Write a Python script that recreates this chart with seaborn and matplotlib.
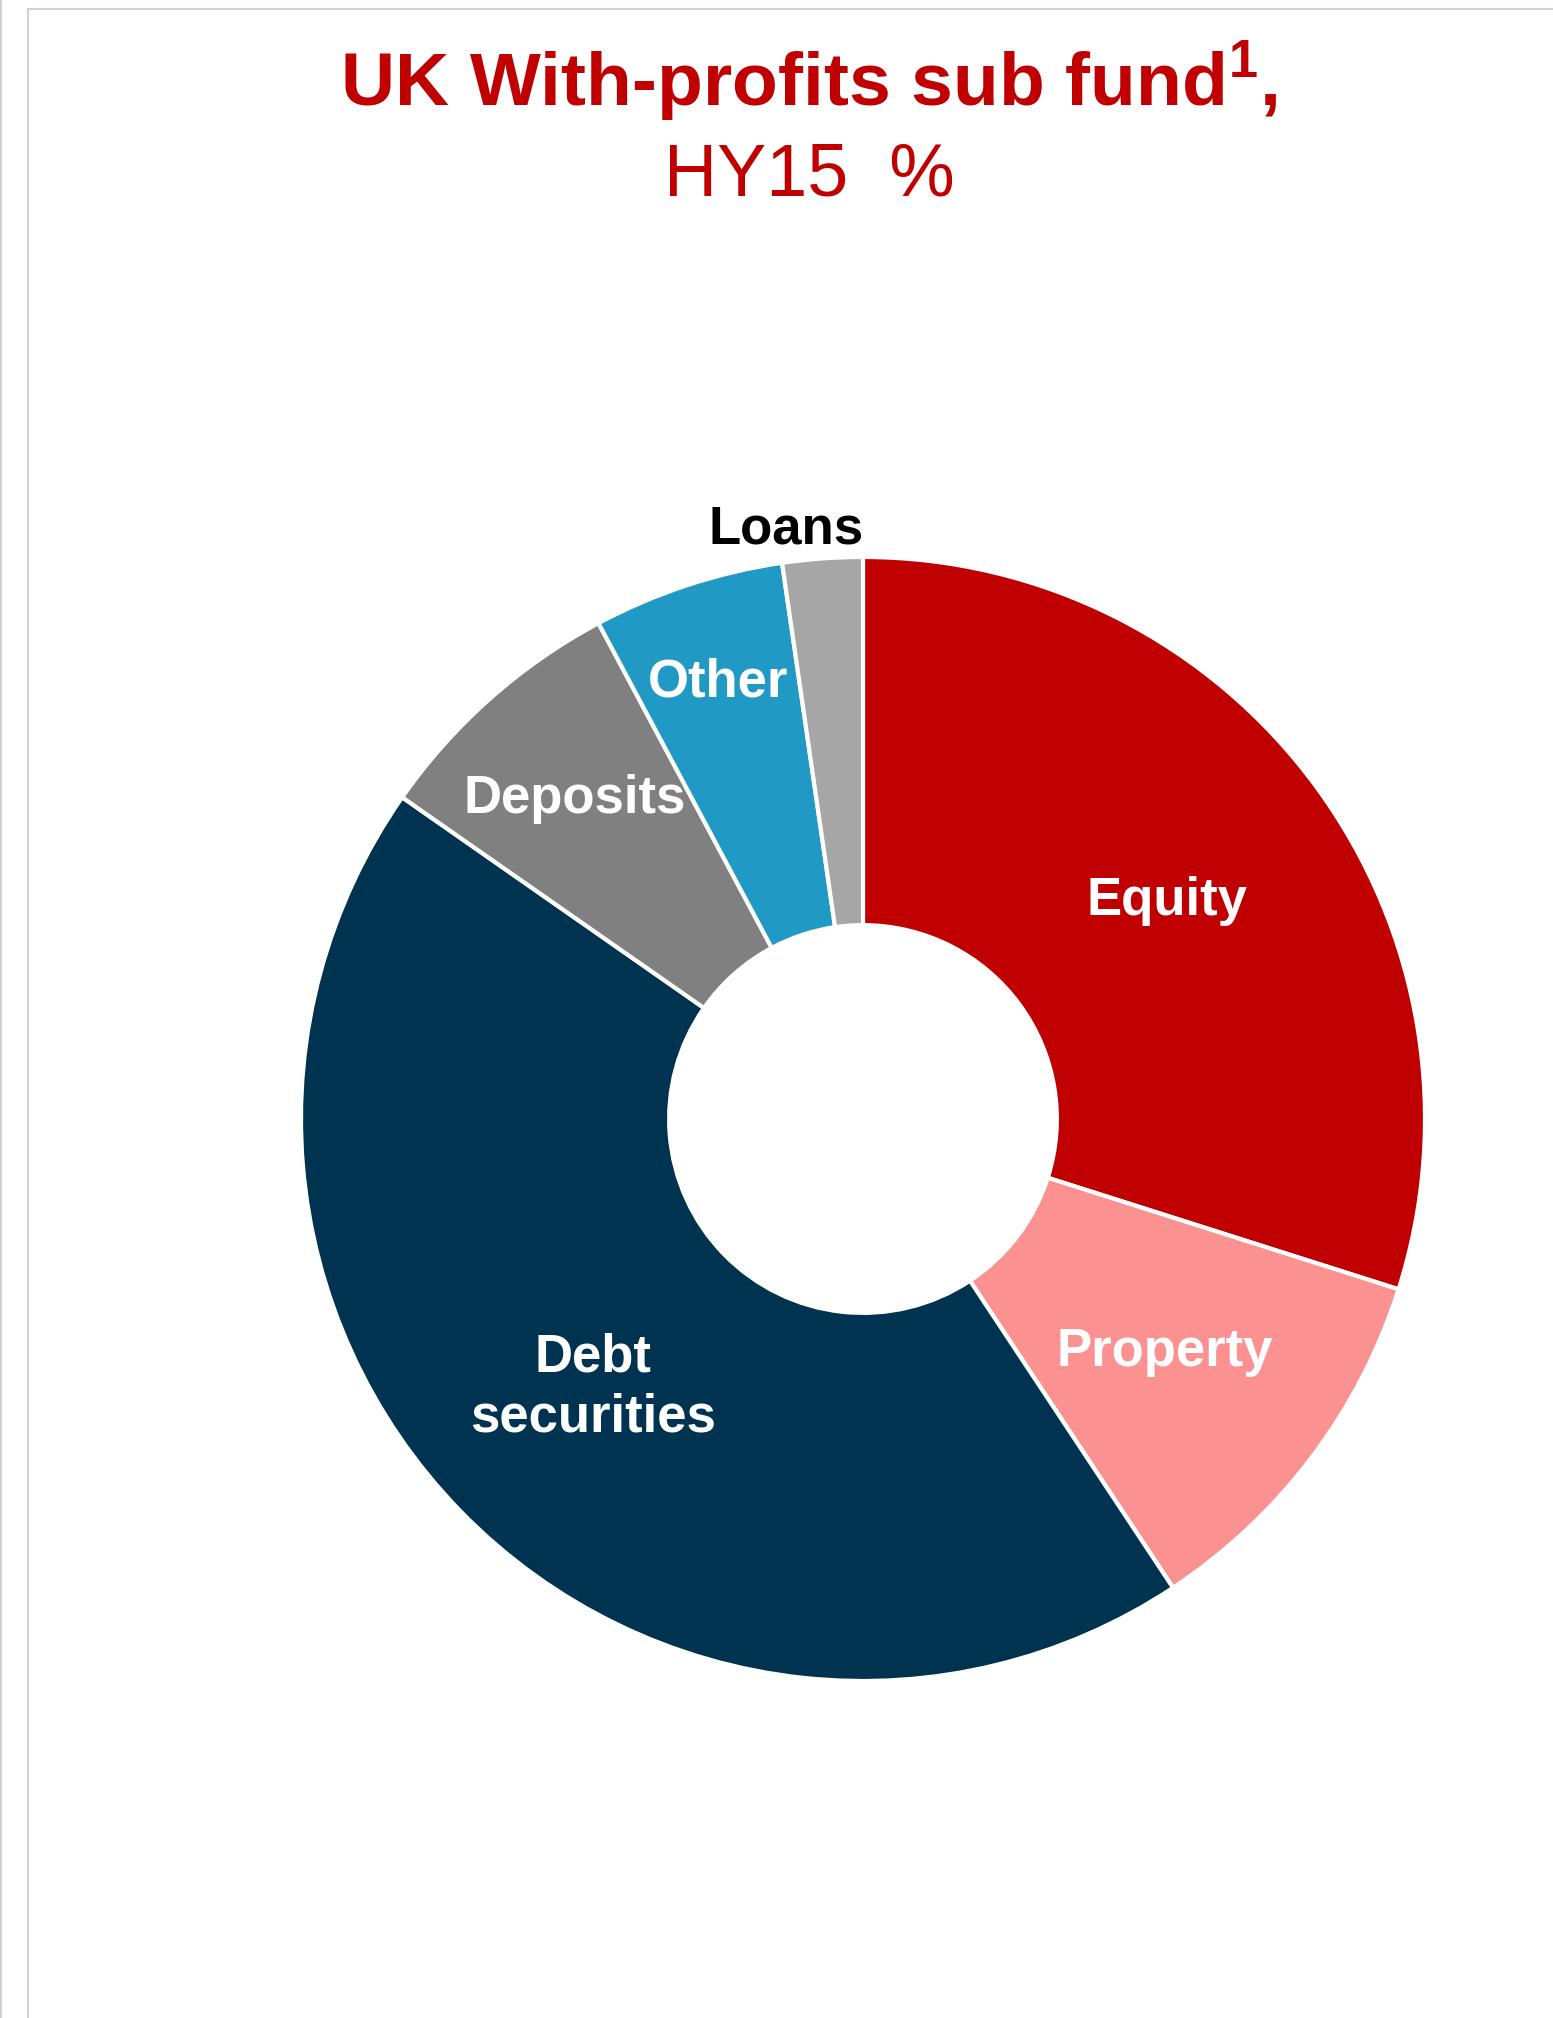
import numpy as np
import matplotlib
matplotlib.use("Agg")
import matplotlib.pyplot as plt
import seaborn as sns
from matplotlib.lines import Line2D

sns.set_theme(style="white")
plt.rcParams["font.family"] = ["Liberation Sans", "DejaVu Sans"]
plt.rcParams["mathtext.fontset"] = "custom"
plt.rcParams["mathtext.rm"] = "Liberation Sans"

# Asset mix of the UK with-profits sub fund, HY15 (%)
categories = ["Equity", "Property", "Debt\nsecurities", "Deposits", "Other", "Loans"]
shares = [29.9, 10.8, 44.0, 7.5, 5.5, 2.3]
colors = ["#C00000", "#FC9191", "#003350", "#808080", "#2099C4", "#A6A6A6"]
label_colors = ["white", "white", "white", "white", "white", "black"]

W, H = 1553, 2018
fig = plt.figure(figsize=(W / 100, H / 100), dpi=100)

# donut placement in pixels
cx, cy, R = 863, 1119, 562
ax = fig.add_axes([(cx - R) / W, 1 - (cy + R) / H, 2 * R / W, 2 * R / H])

wedges, _ = ax.pie(
    shares, colors=colors, startangle=90, counterclock=False, radius=1.0,
    wedgeprops=dict(width=0.655, edgecolor="white", linewidth=3),
)
ax.set_xlim(-1, 1)
ax.set_ylim(-1, 1)
ax.set_aspect("equal")
ax.axis("off")

# labels sit along each wedge's mid angle
label_r = [0.67, 0.674, 0.672, 0.772, 0.826, 1.065]
for w, lab, col, r in zip(wedges, categories, label_colors, label_r):
    mid = np.deg2rad((w.theta1 + w.theta2) / 2)
    if lab == "Loans":
        mid = np.deg2rad(97.4)
    ax.text(r * np.cos(mid), r * np.sin(mid) - 0.008, lab, ha="center", va="center",
            color=col, fontsize=38, fontweight="bold", linespacing=1.25,
            clip_on=False)

# title
red = "#C00000"
fig.text(809 / W, 1 - 107 / H, r"UK With-profits sub fund$^{\mathregular{1}}$,",
         ha="center", va="baseline", color=red, fontsize=54, fontweight="bold")
fig.text(809 / W, 1 - 196 / H, "HY15  %", ha="center", va="baseline",
         color=red, fontsize=53)

# frame lines
gray = "#D0D0D0"
fig.add_artist(Line2D([1 / W, 1 / W], [0, 1], transform=fig.transFigure, color=gray, lw=1.5))
fig.add_artist(Line2D([28 / W, 28 / W], [0, 1 - 9 / H], transform=fig.transFigure, color=gray, lw=1.5))
fig.add_artist(Line2D([28 / W, 1], [1 - 9 / H, 1 - 9 / H], transform=fig.transFigure, color=gray, lw=1.5))

fig.savefig("out.png", dpi=100, facecolor="white")
